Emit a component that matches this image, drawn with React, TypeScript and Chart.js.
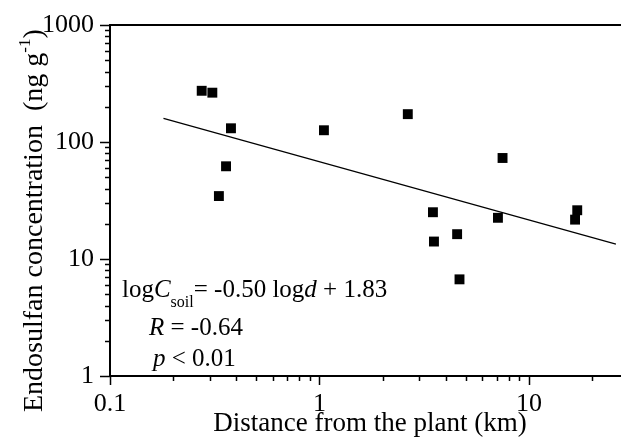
import React, { useEffect, useRef } from 'react';
import { Chart, registerables } from 'chart.js';

Chart.register(...registerables);

// ---- data ----
const distanceKm = [0.274, 0.308, 0.331, 0.358, 0.378, 1.05, 2.64, 3.48, 3.52, 4.54, 4.66, 7.11, 7.48, 16.6, 17.0];
const concentration = [274, 264, 34.5, 62, 131, 126, 173, 25.1, 14.1, 16.3, 6.7, 22.5, 73, 21.7, 26.1];
const fitDistance = [0.18, 26];
const fitConcentration = [159, 13.4];

const xTickValues = [0.1, 1, 10];
const xTickLabels = ['0.1', '1', '10'];
const yTickValues = [1, 10, 100, 1000];
const yTickLabels = ['1', '10', '100', '1000'];

const xTitle = 'Distance from the plant (km)';
const yTitleMain = 'Endosulfan concentration  (ng g';
const yTitleSup = '-1';
const yTitleEnd = ')';

const FONT = "'Liberation Serif', 'Times New Roman', serif";

function drawRuns(ctx: CanvasRenderingContext2D, x: number, y: number, runs: { t: string; size: number; italic?: boolean; dy?: number }[]) {
  let cx = x;
  for (const r of runs) {
    ctx.font = `${r.italic ? 'italic ' : ''}${r.size}px ${FONT}`;
    ctx.fillText(r.t, cx, y + (r.dy || 0));
    cx += ctx.measureText(r.t).width;
  }
  return cx;
}

const decorPlugin = {
  id: 'decor',
  afterDraw(chart: any) {
    const { ctx, chartArea } = chart;
    const xs = chart.scales.x;
    const ys = chart.scales.y;
    ctx.save();
    ctx.strokeStyle = '#000';
    ctx.fillStyle = '#000';
    // top frame line
    ctx.lineWidth = 2;
    ctx.beginPath();
    ctx.moveTo(chartArea.left - 1, chartArea.top);
    ctx.lineTo(chartArea.right, chartArea.top);
    ctx.stroke();

    // tick marks (major + minor), outward
    ctx.lineWidth = 1.5;
    ctx.beginPath();
    for (const d of [0.1, 1, 10]) {
      for (let k = 1; k <= 9; k++) {
        const v = d * k;
        if (v < xs.min - 1e-9 || v > xs.max) continue;
        const px = Math.round(xs.getPixelForValue(v)) + 0.5;
        const len = k === 1 ? 9 : 5;
        ctx.moveTo(px, chartArea.bottom);
        ctx.lineTo(px, chartArea.bottom + len);
      }
    }
    for (const d of [1, 10, 100, 1000]) {
      for (let k = 1; k <= 9; k++) {
        const v = d * k;
        if (v < ys.min - 1e-9 || v > ys.max + 1e-9) continue;
        const py = Math.round(ys.getPixelForValue(v)) + 0.5;
        const len = k === 1 ? 10 : 5;
        ctx.moveTo(chartArea.left, py);
        ctx.lineTo(chartArea.left - len, py);
      }
    }
    ctx.stroke();

    // axis titles
    ctx.textBaseline = 'alphabetic';
    ctx.textAlign = 'center';
    ctx.font = `27px ${FONT}`;
    ctx.fillText(xTitle, 370, 431);

    ctx.textAlign = 'left';
    ctx.save();
    ctx.translate(42, 412);
    ctx.rotate(-Math.PI / 2);
    drawRuns(ctx, 0, 0, [
      { t: yTitleMain, size: 28 },
      { t: yTitleSup, size: 17, dy: -12 },
      { t: yTitleEnd, size: 28 },
    ]);
    ctx.restore();

    // regression annotation
    drawRuns(ctx, 122, 297, [
      { t: 'log', size: 25 },
      { t: 'C', size: 25, italic: true },
      { t: 'soil', size: 16, dy: 10 },
      { t: '= -0.50 log', size: 25 },
      { t: 'd', size: 25, italic: true },
      { t: ' + 1.83', size: 25 },
    ]);
    drawRuns(ctx, 149, 335, [
      { t: 'R', size: 25, italic: true },
      { t: ' = -0.64', size: 25 },
    ]);
    drawRuns(ctx, 153, 366, [
      { t: 'p', size: 25, italic: true },
      { t: ' < 0.01', size: 25 },
    ]);
    ctx.restore();
  },
};

export default function App() {
  const ref = useRef<HTMLCanvasElement | null>(null);
  useEffect(() => {
    if (!ref.current) return;
    const chart = new Chart(ref.current, {
      type: 'scatter',
      data: {
        datasets: [
          {
            label: 'Soil samples',
            data: distanceKm.map((d, i) => ({ x: d, y: concentration[i] })),
            pointStyle: 'rect',
            pointRadius: 7,
            pointBorderWidth: 0,
            backgroundColor: '#000',
            borderColor: '#000',
          },
          {
            label: 'Fit',
            data: fitDistance.map((d, i) => ({ x: d, y: fitConcentration[i] })),
            showLine: true,
            pointRadius: 0,
            borderWidth: 1.2,
            borderColor: '#000',
          } as any,
        ],
      },
      options: {
        animation: false,
        responsive: true,
        maintainAspectRatio: false,
        layout: { autoPadding: false, padding: { top: 25, right: 0, left: 0, bottom: 0 } },
        plugins: { legend: { display: false }, tooltip: { enabled: false } },
        scales: {
          x: {
            type: 'logarithmic',
            min: 0.1,
            max: 27.5,
            afterBuildTicks: (s: any) => { s.ticks = xTickValues.map((v) => ({ value: v })); },
            afterFit: (s: any) => { s.height = 65; s.paddingLeft = 0; s.paddingRight = 0; },
            grid: { display: false, drawTicks: false },
            border: { display: true, color: '#000', width: 2 },
            ticks: {
              color: '#000',
              padding: 13,
              maxRotation: 0,
              autoSkip: false,
              font: { family: FONT, size: 26 },
              callback: (v: any) => { const i = xTickValues.indexOf(v); return i >= 0 ? xTickLabels[i] : ''; },
            },
          },
          y: {
            type: 'logarithmic',
            min: 1,
            max: 1000,
            afterBuildTicks: (s: any) => { s.ticks = yTickValues.map((v) => ({ value: v })); },
            afterFit: (s: any) => { s.width = 110; s.paddingTop = 0; s.paddingBottom = 0; },
            grid: { display: false, drawTicks: false },
            border: { display: true, color: '#000', width: 2 },
            ticks: {
              color: '#000',
              padding: 16,
              autoSkip: false,
              font: { family: FONT, size: 26 },
              callback: (v: any) => { const i = yTickValues.indexOf(v); return i >= 0 ? yTickLabels[i] : ''; },
            },
          },
        },
      },
      plugins: [decorPlugin],
    });
    return () => chart.destroy();
  }, []);
  return (
    <div style={{ position: 'absolute', left: 0, top: 0, width: 621, height: 441, background: '#fff' }}>
      <canvas ref={ref} />
    </div>
  );
}
